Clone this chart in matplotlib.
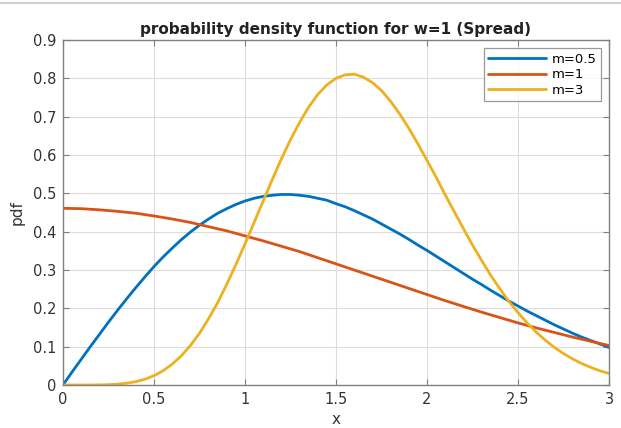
import matplotlib
matplotlib.use("Agg")
import matplotlib.pyplot as plt
from matplotlib.lines import Line2D

# fine grid (step 0.05) for the blue and yellow curves
x_fine = [0.0, 0.05, 0.1, 0.15, 0.2, 0.25, 0.3, 0.35, 0.4, 0.45, 0.5, 0.55, 0.6, 0.65,
          0.7, 0.75, 0.8, 0.85, 0.9, 0.95, 1.0, 1.05, 1.1, 1.15, 1.2, 1.25, 1.3, 1.35,
          1.4, 1.45, 1.5, 1.55, 1.6, 1.65, 1.7, 1.75, 1.8, 1.85, 1.9, 1.95, 2.0, 2.05,
          2.1, 2.15, 2.2, 2.25, 2.3, 2.35, 2.4, 2.45, 2.5, 2.55, 2.6, 2.65, 2.7, 2.75,
          2.8, 2.85, 2.9, 2.95, 3.0]

pdf_m05 = [0.0, 0.034, 0.067, 0.100, 0.132, 0.164, 0.195, 0.225, 0.254, 0.282, 0.309,
           0.334, 0.357, 0.379, 0.399, 0.417, 0.433, 0.448, 0.460, 0.471, 0.480, 0.487,
           0.492, 0.495, 0.497, 0.497, 0.495, 0.492, 0.487, 0.482, 0.473, 0.465, 0.455,
           0.444, 0.433, 0.420, 0.407, 0.394, 0.380, 0.365, 0.351, 0.336, 0.321, 0.306,
           0.291, 0.276, 0.262, 0.247, 0.233, 0.219, 0.206, 0.193, 0.181, 0.169, 0.157,
           0.146, 0.135, 0.125, 0.116, 0.107, 0.098]

pdf_m3 = [0.0, 0.0, 0.0, 0.0001, 0.0003, 0.0009, 0.0022, 0.0047, 0.0087, 0.0150, 0.0243,
          0.0372, 0.0543, 0.0760, 0.103, 0.135, 0.173, 0.215, 0.263, 0.314, 0.368,
          0.424, 0.480, 0.536, 0.590, 0.640, 0.685, 0.725, 0.758, 0.783, 0.800, 0.809,
          0.811, 0.803, 0.789, 0.768, 0.740, 0.707, 0.670, 0.629, 0.586, 0.542, 0.496,
          0.452, 0.408, 0.365, 0.325, 0.286, 0.251, 0.218, 0.189, 0.162, 0.138, 0.117,
          0.098, 0.082, 0.068, 0.056, 0.046, 0.037, 0.030]

x_red = [0.0, 0.1, 0.2, 0.3, 0.4, 0.5, 0.6, 0.7, 0.8, 0.9, 1.0, 1.1, 1.2, 1.3, 1.4, 1.5,
         1.6, 1.7, 1.8, 1.9, 2.0, 2.1, 2.2, 2.3, 2.4, 2.5, 2.6, 2.7, 2.8, 2.9, 3.0]
pdf_m1 = [0.461, 0.460, 0.457, 0.453, 0.448, 0.441, 0.433, 0.424, 0.413, 0.402, 0.389,
          0.376, 0.362, 0.348, 0.332, 0.316, 0.300, 0.284, 0.268, 0.252, 0.236, 0.220,
          0.205, 0.190, 0.176, 0.162, 0.149, 0.137, 0.125, 0.114, 0.103]

labels = ["m=0.5", "m=1", "m=3"]
colors = ["#0072BD", "#D95319", "#EDB120"]
xticks = [0, 0.5, 1, 1.5, 2, 2.5, 3]
xticklabels = ["0", "0.5", "1", "1.5", "2", "2.5", "3"]
yticks = [0, 0.1, 0.2, 0.3, 0.4, 0.5, 0.6, 0.7, 0.8, 0.9]
yticklabels = ["0", "0.1", "0.2", "0.3", "0.4", "0.5", "0.6", "0.7", "0.8", "0.9"]

plt.rcParams['font.family'] = ['DejaVu Sans']

fig = plt.figure(figsize=(6.21, 4.28), dpi=100)
ax = fig.add_axes([63/621, 1-385/428, (609-63)/621, (385-40)/428])

series = [(x_fine, pdf_m05), (x_red, pdf_m1), (x_fine, pdf_m3)]
for (xs, ys), lab, c in zip(series, labels, colors):
    ax.plot(xs, ys, color=c, lw=2.0, label=lab, solid_joinstyle='round',
            solid_capstyle='round')

ax.set_xlim(0, 3)
ax.set_ylim(0, 0.9)
ax.set_xticks(xticks)
ax.set_xticklabels(xticklabels)
ax.set_yticks(yticks)
ax.set_yticklabels(yticklabels)
ax.grid(True, color='#dcdcdc', lw=0.8)
ax.set_axisbelow(True)
for s in ax.spines.values():
    s.set_color('#808080')
    s.set_linewidth(1.0)
ax.tick_params(direction='in', length=4, width=0.8, colors='#808080',
               labelcolor='#333333', labelsize=10.5, top=True, right=True, pad=5)
ax.set_xlabel("x", fontsize=11, color='#333333', labelpad=4)
ax.set_ylabel("pdf", fontsize=11, color='#333333', labelpad=6)
ax.set_title("probability density function for w=1 (Spread)", fontsize=11,
             fontweight='bold', color='#222222', pad=4)

leg = ax.legend(loc='upper right', fontsize=9.5, handlelength=4.4, frameon=True,
                fancybox=False, edgecolor='#808080', borderaxespad=0.6,
                labelspacing=0.2, handletextpad=0.4, borderpad=0.35)
leg.get_frame().set_linewidth(0.9)

fig.add_artist(Line2D([0, 1], [1 - 3/428, 1 - 3/428], color='#d0d0d0', lw=1.5,
                      transform=fig.transFigure))

fig.savefig("out.png", dpi=100)
